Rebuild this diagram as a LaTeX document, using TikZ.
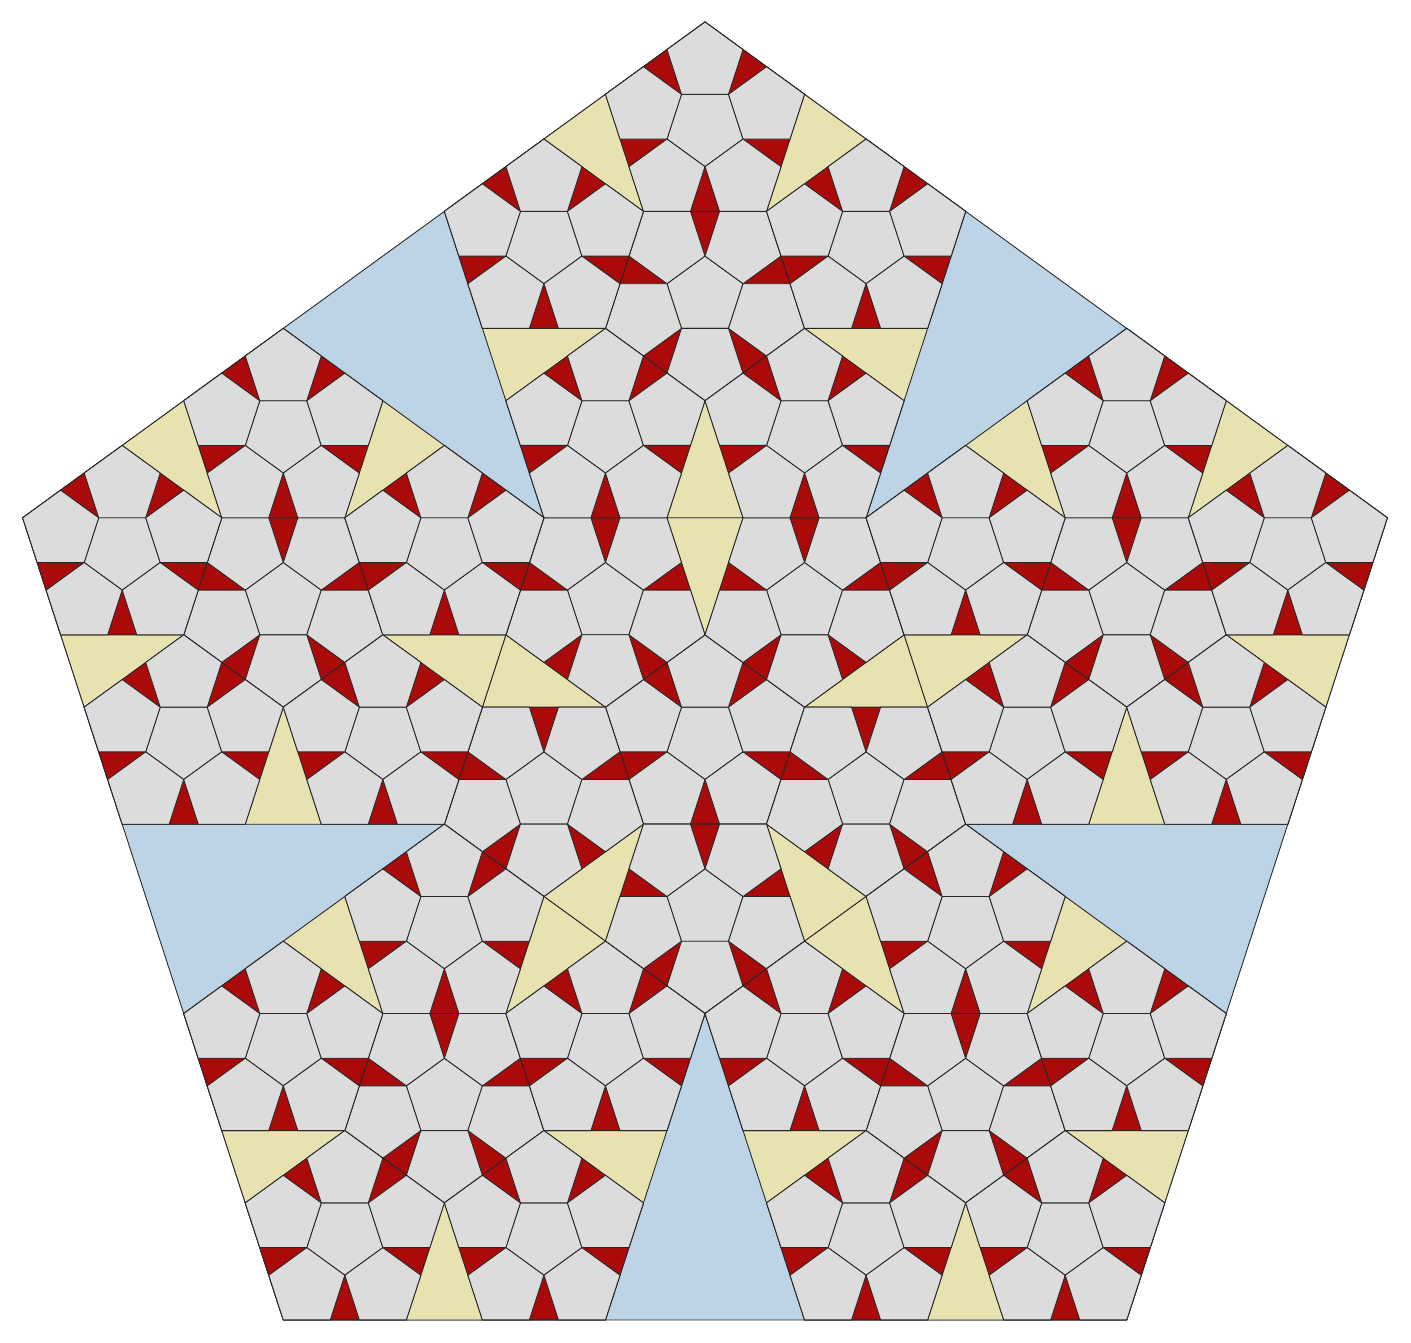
\documentclass[tikz,border=0pt]{standalone}
\definecolor{tblue}{RGB}{189,212,230}
\definecolor{tyellow}{RGB}{232,226,176}
\definecolor{tred}{RGB}{170,10,10}
\definecolor{tgrey}{RGB}{220,220,220}
\tikzset{ptile/.style={draw=black!85,line width=0.5pt,line join=round}}
\newcommand\pent[1]{\path[ptile,fill=#1] (0:1)--(72:1)--(144:1)--(216:1)--(288:1)--cycle;}
\newcommand\kids[1]{%
 \begin{scope}[rotate=36,scale=0.381966]#1\end{scope}%
 \begin{scope}[shift={(0:0.618034)},scale=0.381966]#1\end{scope}%
 \begin{scope}[shift={(72:0.618034)},scale=0.381966]#1\end{scope}%
 \begin{scope}[shift={(144:0.618034)},scale=0.381966]#1\end{scope}%
 \begin{scope}[shift={(216:0.618034)},scale=0.381966]#1\end{scope}%
 \begin{scope}[shift={(288:0.618034)},scale=0.381966]#1\end{scope}%
}
\newcommand\Lthree{\pent{tgrey}}
\newcommand\Ltwo{\pent{tred}\kids\Lthree}
\newcommand\Lone{\pent{tyellow}\kids\Ltwo}
\newcommand\Lzero{\pent{tblue}\kids\Lone}
\begin{document}
\begin{tikzpicture}[x=0.02cm,y=0.02cm]
\useasboundingbox (0,0) rectangle (1411,1343);
\begin{scope}[shift={(705,603.5)},rotate=90,scale=717.5]
\Lzero
\end{scope}
\end{tikzpicture}
\end{document}
